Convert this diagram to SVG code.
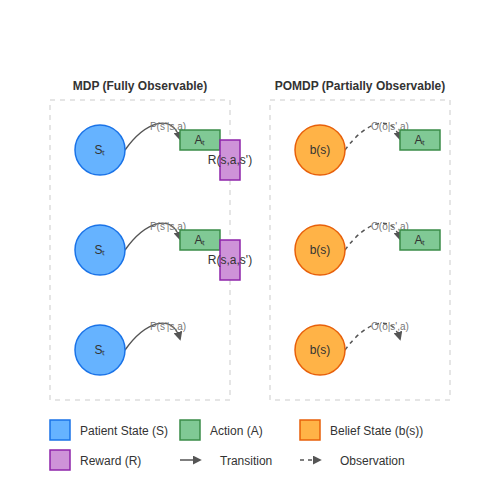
<svg xmlns="http://www.w3.org/2000/svg" width="500" height="500" viewBox="0 0 500 500">
<defs>
<marker id="arr" viewBox="0 0 10 10" refX="8" refY="5" markerWidth="6" markerHeight="6" orient="auto">
<path d="M0,0 L10,5 L0,10 z" fill="#555"/>
</marker>
<style>
text{font-family:"Liberation Sans",Arial,sans-serif;fill:#333}
.title{font-size:12px;font-weight:bold}
.box{fill:none;stroke:#ddd;stroke-width:1.5;stroke-dasharray:5,5}
.state{fill:#66b3ff;stroke:#1a73e8;stroke-width:1.5}
.belief{fill:#ffb347;stroke:#e8600a;stroke-width:1.5}
.action{fill:#80c995;stroke:#3a8c48;stroke-width:1.5}
.reward{fill:#ce93d8;stroke:#8e24aa;stroke-width:1.5}
.lbl{font-size:12px;text-anchor:middle}
.small{font-size:10px;fill:#777;text-anchor:middle}
.trans{fill:none;stroke:#555;stroke-width:1.5}
.obs{fill:none;stroke:#555;stroke-width:1.5;stroke-dasharray:4,4}
.leg{font-size:12px}
</style>
</defs>
<rect width="500" height="500" fill="#fff"/>
<text class="title" x="140" y="90" text-anchor="middle">MDP (Fully Observable)</text>
<text class="title" x="360" y="90" text-anchor="middle">POMDP (Partially Observable)</text>
<rect class="box" x="50" y="100" width="180" height="300"/>
<rect class="box" x="270" y="100" width="180" height="300"/>
<g id="connectors">
<path class="trans" d="M125,150 C145,122 172,112 180,139" marker-end="url(#arr)"/>
<path class="trans" d="M125,250 C145,222 172,212 180,239" marker-end="url(#arr)"/>
<path class="trans" d="M125,350 C145,322 172,312 180,339" marker-end="url(#arr)"/>
<path class="obs" d="M345,150 C365,122 392,112 400,139" marker-end="url(#arr)"/>
<path class="obs" d="M345,250 C365,222 392,212 400,239" marker-end="url(#arr)"/>
<path class="obs" d="M345,350 C365,322 392,312 400,339" marker-end="url(#arr)"/>
<text class="small" x="168" y="130">P(s'|s,a)</text>
<text class="small" x="168" y="230">P(s'|s,a)</text>
<text class="small" x="168" y="330">P(s'|s,a)</text>
<text class="small" x="390" y="130">O(o|s',a)</text>
<text class="small" x="390" y="230">O(o|s',a)</text>
<text class="small" x="390" y="330">O(o|s',a)</text>
</g>
<g id="s1"><circle class="state" cx="100" cy="150" r="25"/><text class="lbl" x="100" y="154">Sₜ</text></g>
<g id="s2"><circle class="state" cx="100" cy="250" r="25"/><text class="lbl" x="100" y="254">Sₜ</text></g>
<g id="s3"><circle class="state" cx="100" cy="350" r="25"/><text class="lbl" x="100" y="354">Sₜ</text></g>
<g id="a1"><rect class="action" x="180" y="130" width="40" height="20"/><text class="lbl" x="200" y="144">Aₜ</text></g>
<g id="a2"><rect class="action" x="180" y="230" width="40" height="20"/><text class="lbl" x="200" y="244">Aₜ</text></g>
<g id="r1"><rect class="reward" x="220" y="140" width="20" height="40"/><text class="lbl" x="230" y="164">R(s,a,s')</text></g>
<g id="r2"><rect class="reward" x="220" y="240" width="20" height="40"/><text class="lbl" x="230" y="264">R(s,a,s')</text></g>
<g id="b1"><circle class="belief" cx="320" cy="150" r="25"/><text class="lbl" x="320" y="154">b(s)</text></g>
<g id="b2"><circle class="belief" cx="320" cy="250" r="25"/><text class="lbl" x="320" y="254">b(s)</text></g>
<g id="b3"><circle class="belief" cx="320" cy="350" r="25"/><text class="lbl" x="320" y="354">b(s)</text></g>
<g id="pa1"><rect class="action" x="400" y="130" width="40" height="20"/><text class="lbl" x="420" y="144">Aₜ</text></g>
<g id="pa2"><rect class="action" x="400" y="230" width="40" height="20"/><text class="lbl" x="420" y="244">Aₜ</text></g>
<g id="legend">
<rect class="state" x="50" y="420" width="20" height="20"/><text class="leg" x="80" y="435">Patient State (S)</text>
<rect class="action" x="180" y="420" width="20" height="20"/><text class="leg" x="210" y="435">Action (A)</text>
<rect class="belief" x="300" y="420" width="20" height="20"/><text class="leg" x="330" y="435">Belief State (b(s))</text>
<rect class="reward" x="50" y="450" width="20" height="20"/><text class="leg" x="80" y="465">Reward (R)</text>
<line class="trans" x1="180" y1="460" x2="200" y2="460" marker-end="url(#arr)"/><text class="leg" x="220" y="465">Transition</text>
<line class="obs" x1="300" y1="460" x2="320" y2="460" marker-end="url(#arr)"/><text class="leg" x="340" y="465">Observation</text>
</g>
</svg>
